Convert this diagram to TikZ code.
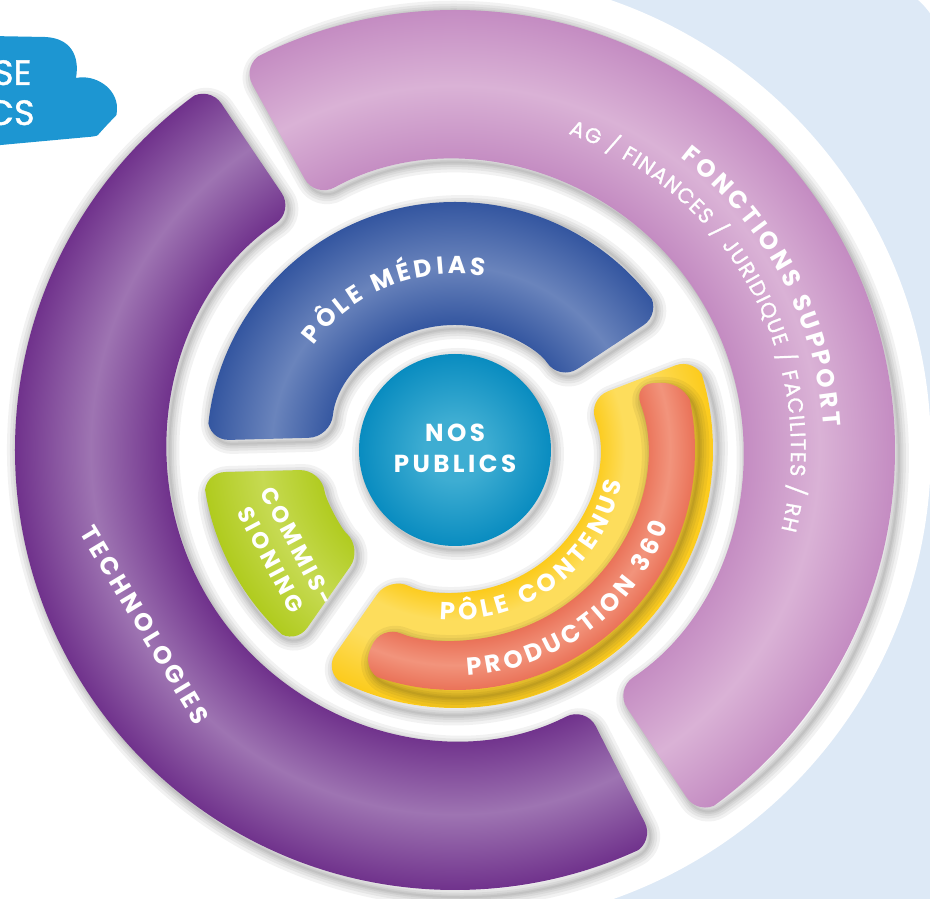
\documentclass[tikz,border=0pt]{standalone}
\usepackage{fontspec}
\setmainfont{Poppins}
\newfontfamily\widefont{Poppins}[LetterSpace=14]
\newfontfamily\medfont{Poppins}[FakeBold=1.2]
\usetikzlibrary{decorations.text}

\definecolor{bgblue}{HTML}{DDE9F6}
\definecolor{cloudblue}{HTML}{1D96D2}
\definecolor{techdark}{HTML}{70328C}
\definecolor{techlight}{HTML}{9E74B2}
\definecolor{fondark}{HTML}{C48CC2}
\definecolor{fonlight}{HTML}{DAB2D6}
\definecolor{meddark}{HTML}{3456A0}
\definecolor{medlight}{HTML}{6A84BC}
\definecolor{comdark}{HTML}{B0CB1E}
\definecolor{comlight}{HTML}{C6DA52}
\definecolor{contdark}{HTML}{FCCB1C}
\definecolor{contlight}{HTML}{FDDD5C}
\definecolor{proddark}{HTML}{EA7258}
\definecolor{prodlight}{HTML}{F2947C}
\definecolor{pubdark}{HTML}{098CC0}
\definecolor{publight}{HTML}{3EADD2}

\pgfdeclareradialshading{techshade}{\pgfpointorigin}{color(0bp)=(techdark); color(16.4bp)=(techdark); color(20.7bp)=(techlight); color(25bp)=(techdark); color(50bp)=(techdark)}
\pgfdeclareradialshading{fonshade}{\pgfpointorigin}{color(0bp)=(fondark); color(16.4bp)=(fondark); color(20.7bp)=(fonlight); color(25bp)=(fondark); color(50bp)=(fondark)}
\pgfdeclareradialshading{medshade}{\pgfpointorigin}{color(0bp)=(meddark); color(12.6bp)=(meddark); color(18.5bp)=(medlight); color(25bp)=(meddark); color(50bp)=(meddark)}
\pgfdeclareradialshading{comshade}{\pgfpointorigin}{color(0bp)=(comdark); color(13.3bp)=(comdark); color(19.2bp)=(comlight); color(25bp)=(comdark); color(50bp)=(comdark)}
\pgfdeclareradialshading{contshade}{\pgfpointorigin}{color(0bp)=(contdark); color(13.8bp)=(contdark); color(16.5bp)=(contlight); color(20bp)=(contlight); color(25bp)=(contdark); color(50bp)=(contdark)}
\pgfdeclareradialshading{prodshade}{\pgfpointorigin}{color(0bp)=(proddark); color(19.8bp)=(proddark); color(22.4bp)=(prodlight); color(25bp)=(proddark); color(50bp)=(proddark)}
\pgfdeclareradialshading{pubshade}{\pgfpointorigin}{color(0bp)=(publight); color(8bp)=(publight); color(25bp)=(pubdark); color(50bp)=(pubdark)}

\tikzstyle{seg}=[rounded corners=4.4mm]
\tikzstyle{glow}=[black,opacity=0.05,line join=round,rounded corners=4.4mm]
\tikzstyle{lbl}=[text=white,font=\widefont\bfseries\fontsize{14}{17.6}\selectfont,align=center]
\tikzstyle{cloudtext}=[text=white,font=\medfont\fontsize{20}{23}\selectfont,inner sep=0pt]

\newcommand{\lblfont}{\bfseries\fontsize{14}{17}\selectfont}
\newcommand{\subfont}{\medfont\fontsize{12}{14}\selectfont}
% ring piece: start angle, start offset, end angle, end offset, inner r, outer r
\newcommand{\segpath}[6]{({#1+asin(#2/#6)}:#6) arc[start angle={#1+asin(#2/#6)}, end angle={#3-asin(#4/#6)}, radius=#6] -- ({#3-asin(#4/#5)}:#5) arc[start angle={#3-asin(#4/#5)}, end angle={#1+asin(#2/#5)}, radius=#5] -- cycle}
\newcommand{\ringpart}[3]{\begin{scope}\clip[seg] #1;\shade[shading=#2] (0,0) circle (#3);\end{scope}}
\newcommand{\softshadow}[1]{\foreach \w in {20,14,9,5,2}{\draw[glow,line width=\w*0.2mm,shift={(3,-4)}] #1;}}

\begin{document}
\begin{tikzpicture}[x=0.2mm,y=0.2mm]
    \useasboundingbox (-455,-449) rectangle (475,450);
    \clip (-455,-449) rectangle (475,450);
    \begin{scope}[shift={(-455,450)},yscale=-1]
        \fill[bgblue,rounded corners=16mm] (520,-20) rectangle (945,960);
        \fill[cloudblue] (-10,36) -- (45,37) .. controls (70,38) and (80,55) .. (76,78) .. controls (95,74) and (117,88) .. (117,108) .. controls (117,128) and (105,136) .. (88,137) -- (-10,146) -- cycle;
    \end{scope}
    \node[cloudtext,anchor=base east] (cloudtop) at (-423,365) {SE};
    \node[cloudtext,anchor=base east] (cloudbot) at (-420,325) {CS};
    \fill[white] (0,0) circle (476);

    \softshadow{\segpath{124}{0}{297}{0}{288}{440}}
    \softshadow{\segpath{-56.3}{0}{119}{0}{288}{440}}
    \softshadow{\segpath{33.5}{0}{181.5}{16}{125}{248}}
    \softshadow{\segpath{181.5}{16}{235}{19}{135}{253}}
    \softshadow{\segpath{235}{19}{381}{0}{142}{258}}
    \softshadow{(0,0) circle (96)}

    \ringpart{\segpath{124}{0}{297}{0}{288}{440}}{techshade}{440}
    \ringpart{\segpath{-56.3}{0}{119}{0}{288}{440}}{fonshade}{440}
    \ringpart{\segpath{33.5}{0}{181.5}{16}{125}{248}}{medshade}{248}
    \ringpart{\segpath{181.5}{16}{235}{19}{135}{253}}{comshade}{253}
    \ringpart{\segpath{235}{19}{381}{0}{142}{258}}{contshade}{258}
    \softshadow{\segpath{247}{0}{360}{-67}{190}{240}}
    \ringpart{\segpath{247}{0}{360}{-67}{190}{240}}{prodshade}{240}
    \shade[shading=pubshade] (0,0) circle (96);

    \node[lbl] (publics) at (0,2) {NOS\\PUBLICS};
    \node[lbl,rotate=-59] (tech) at (-310,-175) {TECHNOLOGIES};
    \node[lbl,rotate=-62,font=\widefont\bfseries\fontsize{13}{17}\selectfont] (commis) at (-171,-103) {COMMIS-\\SIONING};
    \path[decorate,decoration={text effects along path,text={PÔLE MÉDIAS},text align=center,text effects/.cd,text along path,characters={text=white,font=\lblfont},character widths={font=\lblfont,inner xsep=1pt}}] (170:176) arc[start angle=170,end angle=54,radius=176];
    \path[decorate,decoration={text effects along path,text={FONCTIONS SUPPORT},text align=center,text effects/.cd,text along path,characters={text=white,font=\lblfont},character widths={font=\lblfont,inner xsep=0.9pt}}] (88:369) arc[start angle=88,end angle=-32,radius=369];
    \path[decorate,decoration={text effects along path,text={AG / FINANCES / JURIDIQUE / FACILITES / RH},text align=center,text effects/.cd,text along path,characters={text=white,font=\subfont},character widths={font=\subfont,inner xsep=0.35pt}}] (100:336) arc[start angle=100,end angle=-43.5,radius=336];
    \path[decorate,decoration={text effects along path,text={PÔLE CONTENUS},text align=center,text effects/.cd,text along path,characters={text=white,font=\lblfont},character widths={font=\lblfont,inner xsep=1.2pt}}] (250:170) arc[start angle=250,end angle=364,radius=170];
    \path[decorate,decoration={text effects along path,text={PRODUCTION 360},text align=center,text effects/.cd,text along path,characters={text=white,font=\lblfont},character widths={font=\lblfont,inner xsep=1.1pt}}] (240:226) arc[start angle=240,end angle=374,radius=226];
\end{tikzpicture}
\end{document}
